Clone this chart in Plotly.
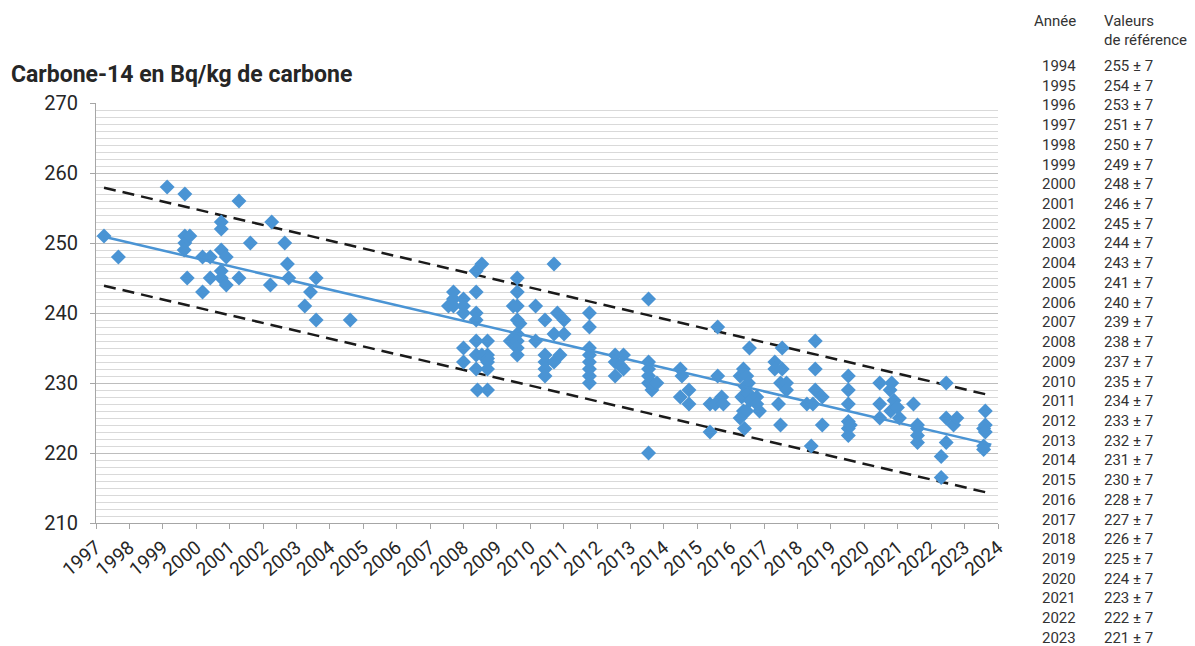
import plotly.graph_objects as go

# ---------------- data ----------------
meas_years = [
    1997.24, 1997.67, 1999.13,
    1999.66, 1999.66, 1999.66, 1999.64, 1999.81, 1999.73,
    2000.19, 2000.19, 2000.42, 2000.42,
    2000.75, 2000.75, 2000.75, 2000.75, 2000.75, 2000.90, 2000.90,
    2001.28, 2001.28, 2001.62, 2002.22, 2002.26, 2002.65, 2002.73, 2002.77,
    2003.25, 2003.42, 2003.59, 2003.59, 2004.61,
    2007.55, 2007.70, 2007.70, 2007.70,
    2008.00, 2008.00, 2008.00, 2008.00, 2008.00,
    2008.38, 2008.38, 2008.38, 2008.38, 2008.38, 2008.38, 2008.38, 2008.42,
    2008.55, 2008.55,
    2008.72, 2008.72, 2008.72, 2008.72, 2008.72, 2008.72,
    2009.40, 2009.49,
    2009.61, 2009.61, 2009.61, 2009.61, 2009.61, 2009.61, 2009.61, 2009.61, 2009.69,
    2010.16, 2010.16,
    2010.44, 2010.44, 2010.44, 2010.44, 2010.44,
    2010.71, 2010.71, 2010.71, 2010.81, 2010.89, 2011.01, 2011.01,
    2011.77, 2011.77, 2011.77, 2011.77, 2011.77, 2011.77, 2011.77, 2011.77,
    2012.54, 2012.54, 2012.54, 2012.69, 2012.79, 2012.79,
    2013.54, 2013.54, 2013.54, 2013.54, 2013.54, 2013.54, 2013.59, 2013.64, 2013.64, 2013.79,
    2014.49, 2014.49, 2014.54, 2014.75, 2014.75,
    2015.38, 2015.38, 2015.54, 2015.61, 2015.61, 2015.73, 2015.78,
    2016.28, 2016.28, 2016.33, 2016.38, 2016.38, 2016.41, 2016.43,
    2016.48, 2016.48, 2016.53, 2016.53, 2016.56, 2016.58,
    2016.78, 2016.78, 2016.86,
    2017.32, 2017.32, 2017.43, 2017.49, 2017.49, 2017.54, 2017.54, 2017.67, 2017.67,
    2018.28, 2018.41, 2018.46, 2018.53, 2018.53, 2018.53, 2018.74, 2018.74,
    2019.52, 2019.52, 2019.52, 2019.52, 2019.52, 2019.52, 2019.58,
    2020.46, 2020.46, 2020.46, 2020.77, 2020.79, 2020.82, 2020.89, 2020.99, 2021.05,
    2021.47, 2021.59, 2021.59, 2021.59, 2021.59,
    2022.30, 2022.30, 2022.45, 2022.45, 2022.45, 2022.67, 2022.77,
    2023.57, 2023.57, 2023.57, 2023.62, 2023.62, 2023.62,
]
meas_values = [
    251, 248, 258,
    257, 251, 250, 249, 251, 245,
    248, 243, 248, 245,
    253, 252, 249, 245, 246, 248, 244,
    256, 245, 250, 244, 253, 250, 247, 245,
    241, 243, 245, 239, 239,
    241, 243, 241, 242,
    242, 241, 240, 235, 233,
    246, 243, 240, 239, 236, 234, 232, 229,
    247, 234,
    236, 234, 233.5, 233, 232, 229,
    236, 241,
    245, 243, 241, 239, 237, 236, 235, 234, 238.5,
    241, 236,
    239, 234, 233, 232, 231,
    247, 237, 233, 240, 234, 239, 237,
    240, 238, 235, 234, 233, 232, 231, 230,
    234, 233, 231, 232.5, 234, 232,
    242, 233, 232, 231, 230, 220, 230, 229, 230, 230,
    232, 228, 231, 229, 227,
    227, 223, 227, 238, 231, 228, 227,
    231, 225, 228, 232, 226, 223.5, 229.5,
    231, 226, 230, 228.5, 235, 227.5,
    228, 227, 226,
    233, 232, 227, 230, 224, 235, 232, 230, 229,
    227, 221, 227, 236, 232, 229, 228, 224,
    231, 229, 227, 224.5, 223.5, 222.5, 224,
    230, 227, 225, 229, 226, 230, 227.5, 226.5, 225,
    227, 224, 223.5, 222.5, 221.5,
    219.5, 216.5, 230, 225, 221.5, 224, 225,
    223.5, 221, 220.5, 226, 224, 223,
]

trend_years = [1997.24, 2023.80]
trend_values = [250.9, 221.2]
band = 7

axis_years = list(range(1997, 2025))

ref_years = [1994, 1995, 1996, 1997, 1998, 1999, 2000, 2001, 2002, 2003,
             2004, 2005, 2006, 2007, 2008, 2009, 2010, 2011, 2012, 2013,
             2014, 2015, 2016, 2017, 2018, 2019, 2020, 2021, 2022, 2023]
ref_values = [255, 254, 253, 251, 250, 249, 248, 246, 245, 244,
              243, 241, 240, 239, 238, 237, 235, 234, 233, 232,
              231, 230, 228, 227, 226, 225, 224, 223, 222, 221]
ref_uncert = 7

# ---------------- figure ----------------
# the page body adds an 8px offset, so the figure is sized to fill the rest
OFF = 8
W, H = 1195 - OFF, 646 - OFF
ML, MR, MT, MB = 96 - OFF, 197, 103 - OFF, 123
plot_w = W - ML - MR
plot_h = H - MT - MB

BLUE = "#4a94d4"
FONT = "Roboto"

fig = go.Figure()

fig.add_trace(go.Scatter(
    x=trend_years, y=[v + band for v in trend_values], mode="lines",
    line=dict(color="#1a1a1a", width=2.5, dash="12px,7px"), hoverinfo="skip",
    showlegend=False))
fig.add_trace(go.Scatter(
    x=trend_years, y=[v - band for v in trend_values], mode="lines",
    line=dict(color="#1a1a1a", width=2.5, dash="12px,7px"), hoverinfo="skip",
    showlegend=False))
fig.add_trace(go.Scatter(
    x=meas_years, y=meas_values, mode="markers",
    marker=dict(symbol="diamond", size=11.5, color=BLUE, line=dict(width=0)),
    showlegend=False))
fig.add_trace(go.Scatter(
    x=trend_years, y=trend_values, mode="lines",
    line=dict(color=BLUE, width=2.5), hoverinfo="skip", showlegend=False))

fig.update_xaxes(
    range=[axis_years[0], axis_years[-1]],
    tickmode="array", tickvals=axis_years, ticktext=[str(y) for y in axis_years],
    tickangle=-40, tickfont=dict(family=FONT, size=19, color="#262626"),
    showgrid=False, zeroline=False,
    showline=True, linecolor="#a6a6a6", linewidth=1,
    ticks="outside", ticklen=5, tickcolor="#a6a6a6",
    automargin=False,
)
fig.update_yaxes(
    range=[210, 270], tick0=210, dtick=10,
    tickfont=dict(family=FONT, size=20, color="#262626"),
    ticklabelstandoff=8,
    showgrid=True, gridcolor="#bdbdbd", gridwidth=1,
    minor=dict(dtick=1, showgrid=True, gridcolor="#d9d9d9", gridwidth=1),
    zeroline=False,
    showline=True, linecolor="#a6a6a6", linewidth=1,
    ticks="outside", ticklen=5, tickcolor="#a6a6a6",
    automargin=False,
)


def px_x(px):
    # reference-picture pixel -> paper coordinate
    return (px - OFF - ML) / plot_w


def px_y(py):
    return (H - MB - (py - OFF)) / plot_h


TXT = dict(family=FONT, size=15, color="#333333")
annotations = []
annotations.append(dict(
    text="<b>Carbone-14 en Bq/kg de carbone</b>", x=px_x(9), y=px_y(74),
    xref="paper", yref="paper", showarrow=False, xanchor="left", yanchor="middle",
    font=dict(family=FONT, size=23, color="#262626")))
annotations.append(dict(text="Année", x=px_x(1078), y=px_y(21), xref="paper", yref="paper",
                        showarrow=False, xanchor="right", yanchor="middle", font=TXT))
annotations.append(dict(text="Valeurs", x=px_x(1102), y=px_y(21), xref="paper", yref="paper",
                        showarrow=False, xanchor="left", yanchor="middle", font=TXT))
annotations.append(dict(text="de référence", x=px_x(1102), y=px_y(40), xref="paper", yref="paper",
                        showarrow=False, xanchor="left", yanchor="middle", font=TXT))
row0, row_step = 66, 19.72
for i, (yr, val) in enumerate(zip(ref_years, ref_values)):
    ypos = px_y(row0 + i * row_step)
    annotations.append(dict(text=str(yr), x=px_x(1078), y=ypos, xref="paper", yref="paper",
                            showarrow=False, xanchor="right", yanchor="middle", font=TXT))
    annotations.append(dict(text=f"{val} ± {ref_uncert}", x=px_x(1102), y=ypos,
                            xref="paper", yref="paper",
                            showarrow=False, xanchor="left", yanchor="middle", font=TXT))

fig.update_layout(
    width=W, height=H,
    margin=dict(l=ML, r=MR, t=MT, b=MB, pad=0, autoexpand=False),
    paper_bgcolor="white", plot_bgcolor="white",
    font=dict(family=FONT),
    annotations=annotations,
    showlegend=False,
)

fig.write_html("out.html")
